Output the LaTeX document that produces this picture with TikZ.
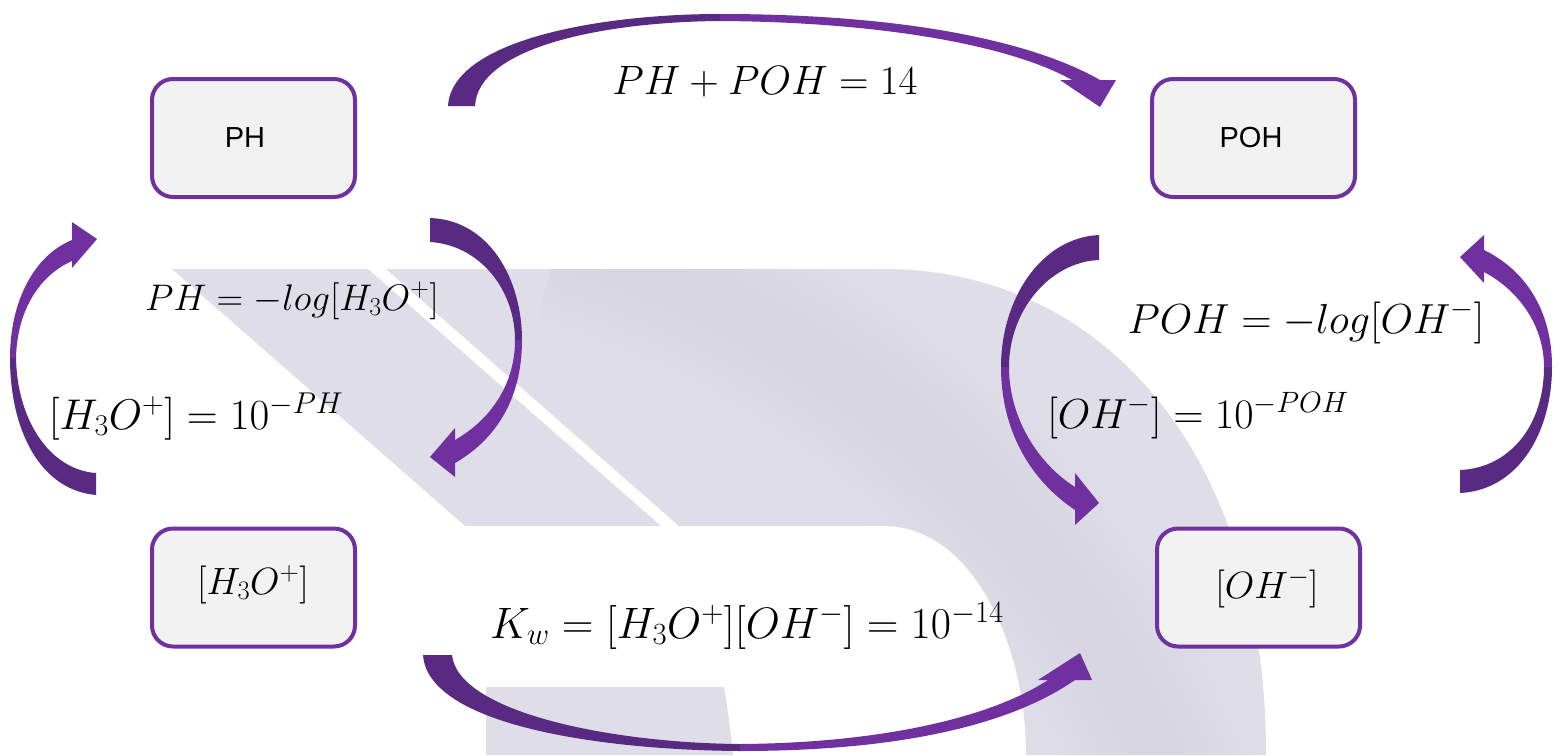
\documentclass[tikz,border=0pt]{standalone}
\usepackage{fix-cm}
\usepackage{fontspec}
\setsansfont{Liberation Sans}
\definecolor{pur}{RGB}{112,48,160}
\definecolor{purd}{RGB}{88,42,130}
\definecolor{logo}{RGB}{223,222,232}
\definecolor{logoshade}{RGB}{120,118,140}
\definecolor{boxfill}{RGB}{242,242,242}
\tikzset{
  box/.style={draw=pur, line width=4pt, fill=boxfill, rounded corners=21pt,
    minimum width=203pt, minimum height=118pt, inner sep=0pt},
  boxlabel/.style={inner sep=0pt, font=\sffamily\fontsize{29}{34}\selectfont},
  eq/.style={inner sep=0pt, anchor=base},
  dark/.style={fill=purd},
  light/.style={fill=pur},
}
\begin{document}
\begin{tikzpicture}[x=1pt,y=-1pt]
\useasboundingbox (0,0) rectangle (1562,755);
% background watermark
\fill[logo] (172,269) -- (368,269) -- (661,526) -- (465,526) -- cycle;
\fill[logo] (386,269) -- (884,269) .. controls (1100,269) and (1266,450) .. (1266,755)
  -- (1026,755) .. controls (1026,640) and (970,526) .. (884,526) -- (679,526) -- cycle;
\fill[logo] (486,687) -- (724,687) .. controls (728,710) and (731,735) .. (733,755) -- (486,755) -- cycle;
\begin{scope}
  \clip (386,269) -- (884,269) .. controls (1100,269) and (1266,450) .. (1266,755)
    -- (1026,755) .. controls (1026,640) and (970,526) .. (884,526) -- (679,526) -- cycle;
  \foreach \w in {30,55,80,105,130,155,180,205}
    \draw[logoshade, opacity=0.008, line width=\w pt]
      (560,240) .. controls (830,320) and (1070,520) .. (1170,790);
\end{scope}
% boxes
\node[box] (ph) at (253.5,138) {};
\node[box] (poh) at (1253.5,138) {};
\node[box] (h3o) at (253.5,587.5) {};
\node[box] (oh) at (1258.5,587.5) {};
\node[boxlabel] (phT) at (245,138) {PH};
\node[boxlabel] (pohT) at (1251,138) {POH};
\node[eq, font=\fontsize{38}{45}\selectfont] (h3oT) at (253,594) {$[H_3O^+]$};
\node[eq, font=\fontsize{38}{45}\selectfont] (ohT) at (1267,598) {$[OH^-]$};
% top arrow PH -> POH
\fill[dark] (448,106) .. controls (452,40) and (600,14) .. (720,14)
  -- (720,21) .. controls (600,22) and (478,48) .. (475,106) -- cycle;
\fill[light] (720,14) .. controls (900,14) and (1030,40) .. (1100,80)
  -- (1072,80) .. controls (1010,45) and (880,22) .. (720,21) -- cycle;
\fill[light] (1060,80) -- (1116,80) -- (1100,107) -- cycle;
% bottom arrow H3O -> OH
\fill[dark] (423,655) .. controls (428,725) and (600,750) .. (740,751)
  -- (740,744) .. controls (610,743) and (458,712) .. (452,655) -- cycle;
\fill[light] (740,751) .. controls (900,751) and (1010,725) .. (1075,680)
  -- (1048,680) .. controls (990,718) and (880,743) .. (740,744) -- cycle;
\fill[light] (1038,680) -- (1080,653) -- (1092,680) -- cycle;
% left arrow H3O -> PH
\fill[dark] (96,495) .. controls (40,490) and (10,430) .. (10,358)
  -- (16,358) .. controls (17,420) and (50,470) .. (96,473) -- cycle;
\fill[light] (10,358) .. controls (10,300) and (35,255) .. (72,240)
  -- (72,261) .. controls (40,275) and (17,310) .. (16,358) -- cycle;
\fill[light] (72,222) -- (97,239) -- (72,268) -- cycle;
% PH -> H3O arrow
\fill[dark] (430,218) .. controls (490,220) and (522,280) .. (522,340)
  -- (515,340) .. controls (515,290) and (480,245) .. (430,242) -- cycle;
\fill[light] (522,340) .. controls (522,400) and (495,440) .. (455,463)
  -- (455,440) .. controls (490,420) and (515,385) .. (515,340) -- cycle;
\fill[light] (455,428) -- (430,457) -- (455,477) -- cycle;
% POH -> OH arrow
\fill[dark] (1099,235) .. controls (1040,238) and (1001,300) .. (1001,367)
  -- (1009,367) .. controls (1009,310) and (1050,262) .. (1099,260) -- cycle;
\fill[light] (1001,367) .. controls (1001,430) and (1030,480) .. (1075,510)
  -- (1075,487) .. controls (1040,465) and (1009,420) .. (1009,367) -- cycle;
\fill[light] (1075,473) -- (1099,503) -- (1075,525) -- cycle;
% OH -> POH arrow
\fill[dark] (1460,493) .. controls (1520,490) and (1552,430) .. (1552,367)
  -- (1544,367) .. controls (1544,425) and (1510,468) .. (1460,470) -- cycle;
\fill[light] (1552,367) .. controls (1552,310) and (1525,270) .. (1484,250)
  -- (1484,272) .. controls (1518,290) and (1544,325) .. (1544,367) -- cycle;
\fill[light] (1484,235) -- (1460,257) -- (1484,283) -- cycle;
% equations
\node[eq, font=\fontsize{41}{48}\selectfont] (e1) at (765,94) {$PH+POH=14$};
\node[eq, font=\fontsize{37}{44}\selectfont] (e2) at (292,310) {$PH=-log[H_3O^+]$};
\node[eq, font=\fontsize{43}{50}\selectfont] (e3) at (196,429) {$[H_3O^+]=10^{-PH}$};
\node[eq, font=\fontsize{42}{50}\selectfont] (e4) at (1306,333) {$POH=-log[OH^-]$};
\node[eq, font=\fontsize{42}{50}\selectfont] (e5) at (1198,428) {$[OH^-]=10^{-POH}$};
\node[eq, font=\fontsize{44}{52}\selectfont] (e6) at (747,638) {$K_w=[H_3O^+][OH^-]=10^{-14}$};
\end{tikzpicture}
\end{document}
